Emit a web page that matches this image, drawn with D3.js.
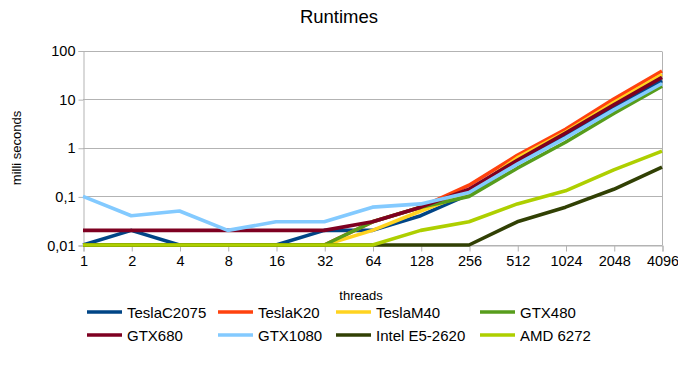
<!DOCTYPE html>
<html>
<head>
<meta charset="utf-8">
<script src="https://cdn.jsdelivr.net/npm/d3@7"></script>
<style>
  body { margin: 0; background: #fff; }
  svg { display: block; font-family: "Liberation Sans", Arial, sans-serif; }
</style>
</head>
<body>
<svg id="chart" width="678" height="376"></svg>
<script>
// Thread counts on the category axis
const threads = ["1", "2", "4", "8", "16", "32", "64", "128", "256", "512", "1024", "2048", "4096"];

// Runtime per device, in milliseconds
const teslaC2075 = [0.01, 0.02, 0.01, 0.01, 0.01, 0.02, 0.02, 0.04, 0.11, 0.5, 1.8, 6.8, 24];
const teslaK20   = [0.01, 0.01, 0.01, 0.01, 0.01, 0.01, 0.03, 0.06, 0.17, 0.7, 2.4, 10, 38];
const teslaM40   = [0.01, 0.01, 0.01, 0.01, 0.01, 0.01, 0.02, 0.05, 0.12, 0.62, 2.1, 8.5, 32];
const gtx480     = [0.01, 0.01, 0.01, 0.01, 0.01, 0.01, 0.03, 0.06, 0.1, 0.38, 1.3, 5.1, 18.5];
const gtx680     = [0.02, 0.02, 0.02, 0.02, 0.02, 0.02, 0.03, 0.06, 0.14, 0.55, 2.0, 7.6, 28];
const gtx1080    = [0.1, 0.04, 0.05, 0.02, 0.03, 0.03, 0.06, 0.07, 0.12, 0.46, 1.6, 6.0, 21];
const intelE5    = [0.01, 0.01, 0.01, 0.01, 0.01, 0.01, 0.01, 0.01, 0.01, 0.03, 0.06, 0.14, 0.4];
const amd6272    = [0.01, 0.01, 0.01, 0.01, 0.01, 0.01, 0.01, 0.02, 0.03, 0.07, 0.13, 0.35, 0.85];

const seriesNames  = ["TeslaC2075", "TeslaK20", "TeslaM40", "GTX480", "GTX680", "GTX1080", "Intel E5-2620", "AMD 6272"];
const seriesColors = ["#004586", "#ff420e", "#ffd320", "#579d1c", "#7e0021", "#83caff", "#314004", "#aecf00"];
const seriesValues = [teslaC2075, teslaK20, teslaM40, gtx480, gtx680, gtx1080, intelE5, amd6272];

// Log axis ticks
const yTicks = [0.01, 0.1, 1, 10, 100];
const yTickLabels = ["0,01", "0,1", "1", "10", "100"];

const svg = d3.select("#chart");
const plot = { left: 83, right: 662, top: 50.5, bottom: 245 };

const x = d3.scalePoint().domain(threads).range([plot.left, plot.right]);
const y = d3.scaleLog().domain([0.01, 100]).range([plot.bottom, plot.top]);

// Horizontal grid
svg.append("g")
  .selectAll("line")
  .data(yTicks)
  .join("line")
  .attr("x1", plot.left).attr("x2", plot.right)
  .attr("y1", d => Math.round(y(d)) + 0.5).attr("y2", d => Math.round(y(d)) + 0.5)
  .attr("stroke", "#b3b3b3").attr("stroke-width", 1);

// Right border of the plot area
svg.append("line")
  .attr("x1", Math.round(plot.right) + 0.5).attr("x2", Math.round(plot.right) + 0.5)
  .attr("y1", Math.round(plot.top) + 0.5).attr("y2", Math.round(plot.bottom) + 0.5)
  .attr("stroke", "#b3b3b3");

// Y axis
const yAxis = d3.axisLeft(y)
  .tickValues(yTicks)
  .tickFormat((d, i) => yTickLabels[i])
  .tickSizeOuter(0)
  .tickSize(5)
  .tickPadding(3);
const gy = svg.append("g")
  .attr("transform", `translate(${plot.left + 0.5},0.5)`)
  .call(yAxis);
gy.select(".domain").attr("stroke", "#b3b3b3");
gy.selectAll(".tick line").attr("stroke", "#b3b3b3");
gy.selectAll(".tick text")
  .attr("font-size", 14.5).attr("fill", "#000")
  .attr("font-family", "Liberation Sans, Arial, sans-serif");

// X axis
const xAxis = d3.axisBottom(x).tickSizeOuter(0).tickSize(6).tickPadding(4);
const gx = svg.append("g")
  .attr("transform", `translate(0.5,${Math.round(plot.bottom) + 0.5})`)
  .call(xAxis);
gx.select(".domain").attr("stroke", "#b3b3b3");
gx.selectAll(".tick line").attr("stroke", "#b3b3b3");
gx.selectAll(".tick text")
  .attr("font-size", 14.5).attr("fill", "#000")
  .attr("font-family", "Liberation Sans, Arial, sans-serif");

// Series lines
const line = d3.line()
  .x((d, i) => x(threads[i]))
  .y(d => y(d));

svg.append("g")
  .selectAll("path")
  .data(seriesValues)
  .join("path")
  .attr("d", d => line(d))
  .attr("fill", "none")
  .attr("stroke", (d, i) => seriesColors[i])
  .attr("stroke-width", 3.6)
  .attr("stroke-linejoin", "round");

// Title
svg.append("text")
  .attr("x", 339).attr("y", 23)
  .attr("text-anchor", "middle")
  .attr("font-size", 18.5)
  .text("Runtimes");

// Axis titles
svg.append("text")
  .attr("x", 361).attr("y", 300)
  .attr("text-anchor", "middle")
  .attr("font-size", 13)
  .text("threads");

svg.append("text")
  .attr("transform", "translate(21,148) rotate(-90)")
  .attr("text-anchor", "middle")
  .attr("font-size", 13)
  .text("milli seconds");

// Legend, four columns by two rows
const legendCols = [87, 218, 336, 480];
const legendRows = [312, 335];
const legend = svg.append("g")
  .selectAll("g")
  .data(seriesNames)
  .join("g")
  .attr("transform", (d, i) => `translate(${legendCols[i % 4]},${legendRows[Math.floor(i / 4)]})`);
legend.append("line")
  .attr("x1", 0).attr("x2", 35)
  .attr("y1", 0).attr("y2", 0)
  .attr("stroke", (d, i) => seriesColors[i])
  .attr("stroke-width", 3.6);
legend.append("text")
  .attr("x", 40).attr("y", 5.5)
  .attr("font-size", 15)
  .text(d => d);
</script>
</body>
</html>
